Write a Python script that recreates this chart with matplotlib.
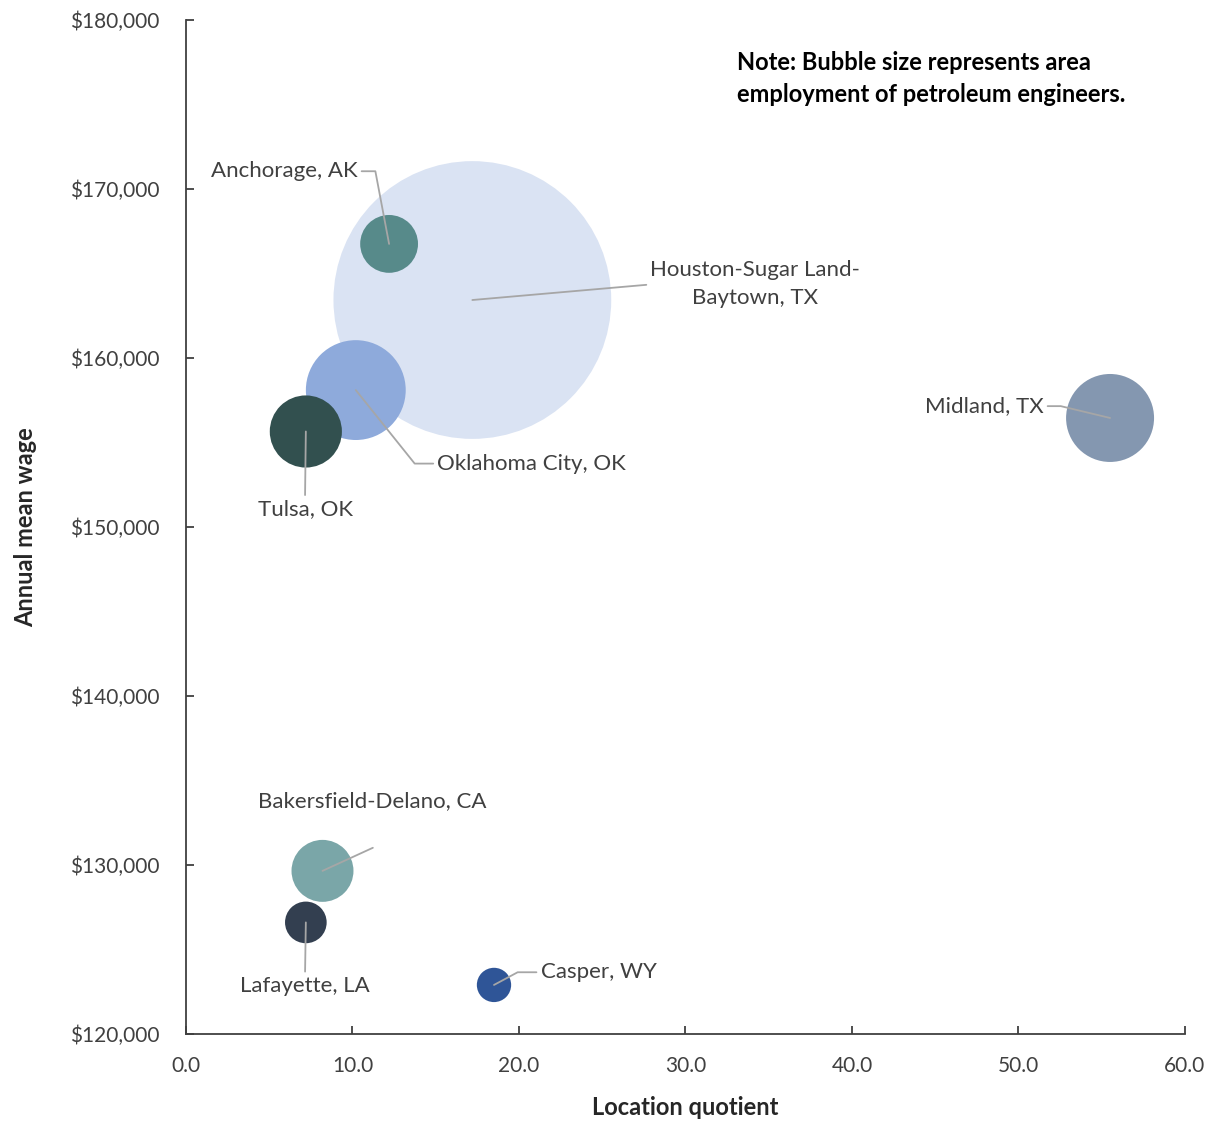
import numpy as np
import matplotlib
matplotlib.use('Agg')
import matplotlib.pyplot as plt
from matplotlib.ticker import FuncFormatter

plt.rcParams['font.family'] = ['Lato', 'DejaVu Sans']

# data
areas = ['Houston-Sugar Land-\nBaytown, TX', 'Anchorage, AK', 'Oklahoma City, OK', 'Tulsa, OK',
         'Midland, TX', 'Bakersfield-Delano, CA', 'Lafayette, LA', 'Casper, WY']
location_quotient = [17.2, 12.2, 10.2, 7.2, 55.5, 8.2, 7.2, 18.5]
annual_wage = [163430, 166750, 158100, 155650, 156450, 129650, 126600, 122900]
employment = [12460, 540, 1610, 840, 1250, 620, 280, 190]
colors = ['#dae3f3', '#578a8a', '#8eaadb', '#32504f', '#8497b0', '#7aa6a8', '#333f50', '#2f5597']

# label placement: (text x, text y, ha, relpos, connection)
label_pos = [
    (34.2, 164350, 'center', (0, 0.5), 'arc3'),
    (10.3, 171050, 'right', (1, 0.5), 'angle,angleA=0,angleB=100.7,rad=0'),
    (15.1, 153750, 'left', (0, 0.5), 'angle,angleA=0,angleB=-51.3,rad=0'),
    (7.15, 151050, 'center', (0.5, 1), 'arc3'),
    (51.5, 157150, 'right', (1, 0.5), 'angle,angleA=0,angleB=-13.5,rad=0'),
    (11.2, 133800, 'center', None, None),
    (7.15, 122850, 'center', (0.5, 1), 'arc3'),
    (21.3, 123650, 'left', (0, 0.5), 'angle,angleA=0,angleB=28.2,rad=0'),
]

fig = plt.figure(figsize=(12.17, 11.23), dpi=100)
ax = fig.add_axes([0.1528, 0.0793, 0.8209, 0.9029])

sizes = np.array(employment) * 3.21
ax.scatter(location_quotient, annual_wage, s=sizes, c=colors, edgecolors='none', zorder=2)

line_kw = dict(arrowstyle='-', color='#a6a6a6', lw=1.3, shrinkA=1, shrinkB=0)
for i, name in enumerate(areas):
    tx, ty, ha, rel, conn = label_pos[i]
    xy = (location_quotient[i], annual_wage[i])
    if rel is None:
        ax.text(tx, ty, name, ha=ha, va='center', fontsize=16, color='#404040', zorder=4)
        ax.annotate('', xy=xy, xytext=(11.3, 131050),
                    arrowprops=dict(line_kw, connectionstyle='arc3'), zorder=3)
        continue
    ax.annotate(name, xy=xy, xytext=(tx, ty), ha=ha, va='center', multialignment='center',
                fontsize=16, color='#404040', linespacing=1.5, zorder=4,
                arrowprops=dict(line_kw, relpos=rel, connectionstyle=conn))

ax.text(33.1, 176550, 'Note: Bubble size represents area\nemployment of petroleum engineers.',
        fontsize=17, fontweight='bold', color='#000000', linespacing=1.5, va='center')

ax.set_xlim(0, 60)
ax.set_ylim(120000, 180000)
ax.set_xticks(np.arange(0, 61, 10))
ax.set_yticks(np.arange(120000, 180001, 10000))
ax.xaxis.set_major_formatter(FuncFormatter(lambda v, p: f'{v:.1f}'))
ax.yaxis.set_major_formatter(FuncFormatter(lambda v, p: f'${v:,.0f}'))
ax.tick_params(direction='in', length=6, width=1.3, color='#404040',
               labelsize=15, labelcolor='#404040')
ax.tick_params(axis='x', pad=16)
ax.tick_params(axis='y', pad=19)
for s in ['top', 'right']:
    ax.spines[s].set_visible(False)
for s in ['left', 'bottom']:
    ax.spines[s].set_color('#404040')
    ax.spines[s].set_linewidth(1.3)

ax.set_xlabel('Location quotient', fontsize=17, fontweight='bold', color='#262626', labelpad=14)
ax.set_ylabel('Annual mean wage', fontsize=17, fontweight='bold', color='#262626', labelpad=24)

fig.savefig('out.png', dpi=100)
